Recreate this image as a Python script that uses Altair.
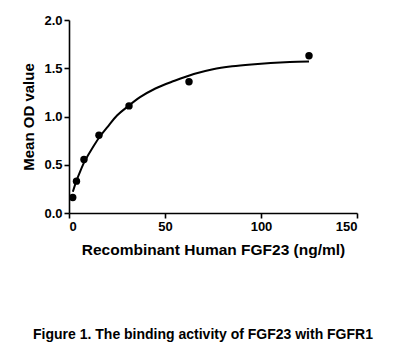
import altair as alt
import pandas as pd

# measured points
conc = [1.95, 3.9, 7.8, 15.6, 31.25, 62.5, 125]
od = [0.16, 0.33, 0.555, 0.805, 1.11, 1.36, 1.63]

# fitted curve
fit_x = [2, 4, 6, 8, 10, 13, 16, 20, 25, 31, 37, 45, 55, 65, 75, 85, 95, 105, 115, 125]
fit_y = [0.22, 0.34, 0.44, 0.53, 0.60, 0.70, 0.79, 0.89, 1.01, 1.11, 1.20, 1.29,
         1.37, 1.44, 1.49, 1.52, 1.54, 1.555, 1.565, 1.57]

x_ticks = [0, 50, 100, 150]
y_ticks = [0, 0.5, 1.0, 1.5, 2.0]

pts = pd.DataFrame({"x": conc, "y": od})
fit = pd.DataFrame({"x": fit_x, "y": fit_y})

FONT = "Liberation Sans"

xs = alt.X("x:Q", scale=alt.Scale(domain=[0, 150], nice=False),
           axis=alt.Axis(values=x_ticks, title="Recombinant Human FGF23 (ng/ml)", grid=False,
                         titlePadding=9))
ys = alt.Y("y:Q", scale=alt.Scale(domain=[0, 2], nice=False),
           axis=alt.Axis(values=y_ticks, format=".1f", title="Mean OD value", grid=False,
                         titlePadding=7))

line = alt.Chart(fit).mark_line(color="black", strokeWidth=2, interpolate="monotone").encode(x=xs, y=ys)
dots = alt.Chart(pts).mark_circle(color="black", opacity=1, size=55).encode(x=xs, y=ys)

chart = (line + dots).properties(
    width=288, height=193,
    background="white",
    title=alt.TitleParams(
        text="Figure 1. The binding activity of FGF23 with FGFR1",
        orient="bottom", anchor="middle", offset=70, dx=-10,
        font=FONT, fontSize=14, fontWeight="bold", color="black",
    ),
    autosize=alt.AutoSizeParams(type="none"),
    padding={"left": 69, "top": 20, "right": 37, "bottom": 138},
).configure_view(stroke=None).configure_axis(
    labelFont=FONT, labelFontSize=13, labelFontWeight="bold", labelColor="black",
    titleFont=FONT, titleFontWeight="bold", titleColor="black",
    domainColor="black", domainWidth=1.6, tickColor="black", tickWidth=1.6, tickSize=5,
    labelPadding=2,
).configure_axisX(titleFontSize=15.5).configure_axisY(titleFontSize=15)

chart.save("out.html", embed_options={"renderer": "svg", "actions": False})
